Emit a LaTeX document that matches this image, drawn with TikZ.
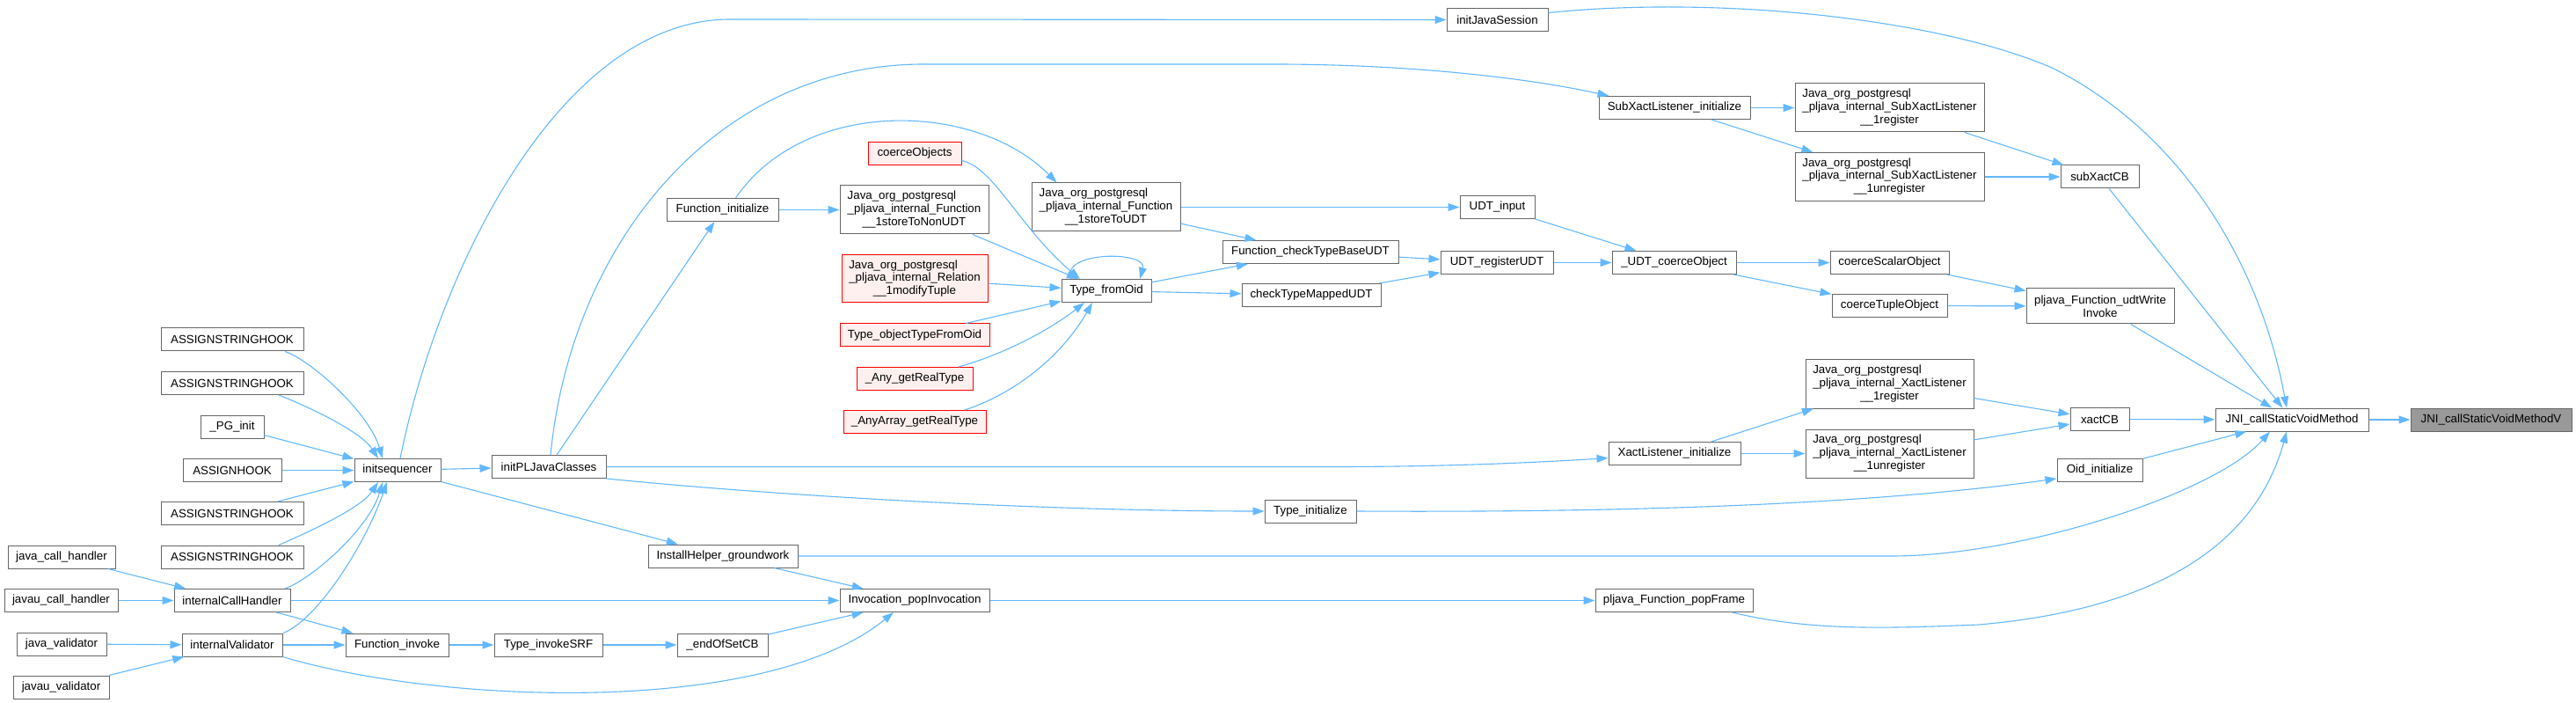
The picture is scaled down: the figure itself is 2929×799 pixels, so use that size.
\documentclass[tikz,border=0pt]{standalone}
\usepackage{fontspec}
\setmainfont{Liberation Sans}
\usetikzlibrary{arrows.meta}
\definecolor{callline}{HTML}{63B8FF}
\definecolor{frame}{HTML}{666666}
\definecolor{undoc}{HTML}{FF0000}
\definecolor{undocfill}{HTML}{FFF0F0}
\definecolor{rootfill}{HTML}{999999}
% three-line JNI labels: two lines flush left, last one centred
\newcommand{\jlabel}[3]{\begin{tabular}{@{}l@{}}#1\\#2\\\multicolumn{1}{@{}c@{}}{#3}\end{tabular}}

\begin{document}
\begin{tikzpicture}[x=1pt,y=-1pt,
  fn/.style={draw=frame,fill=white,line width=1pt,inner sep=0pt,minimum height=26,
    font=\fontsize{13.3}{14.7}\selectfont},
  fnred/.style={fn,draw=undoc,fill=undocfill},
  fnroot/.style={fn,fill=rootfill},
  calls/.style={draw=callline,line width=1.1pt,-{Triangle[length=13pt,width=9pt]}}]
  \useasboundingbox (0,0) rectangle (2929,799);

  % Outermost callers (handlers and validators).
  \node[fn,minimum width=122] (javaCall) at (70,633) {java\_call\_handler};
  \node[fn,minimum width=129] (javauCall) at (69.5,682.5) {javau\_call\_handler};
  \node[fn,minimum width=102] (javaVal) at (70,732) {java\_validator};
  \node[fn,minimum width=109] (javauVal) at (69.5,781) {javau\_validator};

  % Hooks that all end up in initsequencer.
  \foreach \n/\y/\w/\t in {hookA/386/162/ASSIGNSTRINGHOOK,hookB/435.5/162/ASSIGNSTRINGHOOK,
      pgInit/485/72/\_PG\_init,assignHook/534.5/112/ASSIGNHOOK,
      hookC/583.5/162/ASSIGNSTRINGHOOK,hookD/633/162/ASSIGNSTRINGHOOK} {
    \node[fn,minimum width=\w] (\n) at (264,\y) {\t};
  }
  \node[fn,minimum width=132] (callHandler) at (264,682.5) {internalCallHandler};
  \node[fn,minimum width=114] (validator) at (264,733) {internalValidator};

  \node[fn,minimum width=98] (initseq) at (452,534.5) {initsequencer};
  \node[fn,minimum width=117] (funcInvoke) at (451.5,733) {Function\_invoke};
  \node[fn,minimum width=130] (initPL) at (624,530.5) {initPLJavaClasses};
  \node[fn,minimum width=123] (typeSRF) at (623.5,733) {Type\_invokeSRF};
  \node[fn,minimum width=127] (funcInit) at (821.5,238.5) {Function\_initialize};
  \node[fn,minimum width=170] (installHelper) at (822,632) {InstallHelper\_groundwork};
  \node[fn,minimum width=103] (endOfSet) at (821.5,733) {\_endOfSetCB};

  % Type_fromOid and its callers (red = undocumented).
  \node[fnred,minimum width=106] (coerceObjs) at (1040,174.5) {coerceObjects};
  \node[fn,minimum width=169,minimum height=55] (storeNonUDT) at (1039.5,238.5)
    {\jlabel{Java\_org\_postgresql}{\_pljava\_internal\_Function}{\_\_1storeToNonUDT}};
  \node[fnred,minimum width=166,minimum height=54] (modifyTuple) at (1040,317)
    {\jlabel{Java\_org\_postgresql}{\_pljava\_internal\_Relation}{\_\_1modifyTuple}};
  \node[fnred,minimum width=170] (objTypeFromOid) at (1040,381) {Type\_objectTypeFromOid};
  \node[fnred,minimum width=132] (anyReal) at (1040,430.5) {\_Any\_getRealType};
  \node[fnred,minimum width=162] (anyArray) at (1040,479.5) {\_AnyArray\_getRealType};
  \node[fn,minimum width=170] (popInvocation) at (1040,682.5) {Invocation\_popInvocation};

  \node[fn,minimum width=169,minimum height=55] (storeUDT) at (1257.5,235.5)
    {\jlabel{Java\_org\_postgresql}{\_pljava\_internal\_Function}{\_\_1storeToUDT}};
  \node[fn,minimum width=102] (typeFromOid) at (1258,330.5) {Type\_fromOid};

  \node[fn,minimum width=200] (checkBase) at (1490,286.5) {Function\_checkTypeBaseUDT};
  \node[fn,minimum width=158] (checkMapped) at (1491,335.5) {checkTypeMappedUDT};
  \node[fn,minimum width=104] (typeInit) at (1490,581) {Type\_initialize};

  \node[fn,minimum width=115] (javaSession) at (1702.5,22.5) {initJavaSession};
  \node[fn,minimum width=85] (udtInput) at (1702.5,235.5) {UDT\_input};
  \node[fn,minimum width=128] (registerUDT) at (1702,298.5) {UDT\_registerUDT};

  \node[fn,minimum width=172] (subInit) at (1904,122.5) {SubXactListener\_initialize};
  \node[fn,minimum width=141] (udtCoerce) at (1903.5,298.5) {\_UDT\_coerceObject};
  \node[fn,minimum width=150] (xactInit) at (1904,515.5) {XactListener\_initialize};
  \node[fn,minimum width=179] (popFrame) at (1903.5,682.5) {pljava\_Function\_popFrame};

  % Listener registration entry points.
  \node[fn,minimum width=215,minimum height=55] (subReg) at (2148.5,122.5)
    {\jlabel{Java\_org\_postgresql}{\_pljava\_internal\_SubXactListener}{\_\_1register}};
  \node[fn,minimum width=215,minimum height=55] (subUnreg) at (2148.5,201)
    {\jlabel{Java\_org\_postgresql}{\_pljava\_internal\_SubXactListener}{\_\_1unregister}};
  \node[fn,minimum width=135] (coerceScalar) at (2148.5,298.5) {coerceScalarObject};
  \node[fn,minimum width=131] (coerceTuple) at (2148.5,347.5) {coerceTupleObject};
  \node[fn,minimum width=191,minimum height=55] (xactReg) at (2148.5,436.5)
    {\jlabel{Java\_org\_postgresql}{\_pljava\_internal\_XactListener}{\_\_1register}};
  \node[fn,minimum width=191,minimum height=55] (xactUnreg) at (2148.5,515.5)
    {\jlabel{Java\_org\_postgresql}{\_pljava\_internal\_XactListener}{\_\_1unregister}};

  \node[fn,minimum width=89] (subXactCB) at (2387.5,201) {subXactCB};
  \node[fn,minimum width=168,minimum height=40,align=center] (udtWrite) at (2388,348)
    {pljava\_Function\_udtWrite\\Invoke};
  \node[fn,minimum width=67] (xactCB) at (2387.5,476.5) {xactCB};
  \node[fn,minimum width=97] (oidInit) at (2387.5,534) {Oid\_initialize};

  % The method itself, and the root of the graph.
  \node[fn,minimum width=174] (jni) at (2606,477) {JNI\_callStaticVoidMethod};
  \node[fnroot,minimum width=183] (jniV) at (2832.5,477) {JNI\_callStaticVoidMethodV};

  % Straight calls.
  \foreach \a/\b in {pgInit/initseq,assignHook/initseq,hookC/initseq,initseq/initPL,
      initseq/installHelper,javaCall/callHandler,javauCall/callHandler,javaVal/validator,
      javauVal/validator,callHandler/funcInvoke,validator/funcInvoke,callHandler/popInvocation,
      funcInvoke/typeSRF,typeSRF/endOfSet,endOfSet/popInvocation,installHelper/popInvocation,
      popInvocation/popFrame,initPL/funcInit,funcInit/storeNonUDT,storeNonUDT/typeFromOid,
      modifyTuple/typeFromOid,objTypeFromOid/typeFromOid,typeFromOid/checkBase,
      typeFromOid/checkMapped,storeUDT/udtInput,storeUDT/checkBase,checkBase/registerUDT,
      checkMapped/registerUDT,udtInput/udtCoerce,registerUDT/udtCoerce,udtCoerce/coerceScalar,
      udtCoerce/coerceTuple,coerceScalar/udtWrite,coerceTuple/udtWrite,udtWrite/jni,
      subInit/subReg,subInit/subUnreg,subReg/subXactCB,subUnreg/subXactCB,subXactCB/jni,
      xactInit/xactReg,xactInit/xactUnreg,xactReg/xactCB,xactUnreg/xactCB,xactCB/jni,
      oidInit/jni,jni/jniV} {
    \draw[calls] (\a) -- (\b);
  }

  % Hooks bending into initsequencer.
  \draw[calls] ([xshift=60]hookA.south) .. controls (355,410) and (420,470) .. ([xshift=-17]initseq.north);
  \draw[calls] ([xshift=53]hookB.south) .. controls (350,462) and (410,490) .. ([xshift=-22]initseq.north);
  \draw[calls] ([xshift=53]hookD.north) .. controls (350,605) and (410,578) .. ([xshift=-22]initseq.south);
  \draw[calls] ([xshift=60]callHandler.north) .. controls (355,658) and (420,600) .. ([xshift=-17]initseq.south);
  \draw[calls] ([xshift=58]validator.north) .. controls (360,705) and (415,620) .. ([xshift=-12]initseq.south);
  \draw[calls] (validator.south east) .. controls (500,800) and (870,815) .. ([xshift=-24]popInvocation.south);

  % Long arcs over the top.
  \draw[calls] ([xshift=3]initseq.north) .. controls (500,300) and (640,22) .. (830,22) -- (javaSession.west);
  \draw[calls] ([xshift=2]initPL.north) .. controls (650,273) and (817,73) .. (1050,73) -- (1450,73)
    .. controls (1580,73) and (1720,85) .. ([xshift=12]subInit.north west);
  \draw[calls] ([xshift=15]funcInit.north) .. controls (915,110) and (1110,115) .. ([xshift=-56]storeUDT.north);
  \draw[calls] ([yshift=8]javaSession.east) .. controls (1950,-5) and (2200,20) .. (2333,77)
    .. controls (2480,150) and (2570,300) .. ([xshift=-6]jni.north);

  % initPLJavaClasses to the initializers.
  \draw[calls] (initPL.east) -- (1520,530.5) .. controls (1650,530.5) and (1760,525) .. ([yshift=-5]xactInit.west);
  \draw[calls] (initPL.south east) .. controls (900,565) and (1200,581) .. (typeInit.west);
  \draw[calls] (typeInit.east) .. controls (1900,583) and (2150,570) .. ([yshift=-10]oidInit.west);

  % Callers of Type_fromOid that bend, and its call to itself.
  \draw[calls] ([yshift=-8]coerceObjs.east) .. controls (1130,190) and (1160,260) .. ([xshift=-30]typeFromOid.north);
  \draw[calls] ([xshift=50]anyReal.north) .. controls (1150,400) and (1200,370) .. ([xshift=-25]typeFromOid.south);
  \draw[calls] ([xshift=57]anyArray.north) .. controls (1160,445) and (1210,400) .. ([xshift=-16]typeFromOid.south);
  \draw[calls] ([xshift=-40]typeFromOid.north) .. controls (1205,285) and (1305,285) .. ([xshift=38]typeFromOid.north);

  % Into JNI_callStaticVoidMethod from below.
  \draw[calls] (installHelper.east) -- (2150,632) .. controls (2300,632) and (2520,560) .. ([xshift=-25]jni.south);
  \draw[calls] ([xshift=66]popFrame.south) .. controls (2060,718) and (2150,714) .. (2250,710)
    .. controls (2480,690) and (2570,600) .. ([xshift=-6]jni.south);
\end{tikzpicture}
\end{document}
